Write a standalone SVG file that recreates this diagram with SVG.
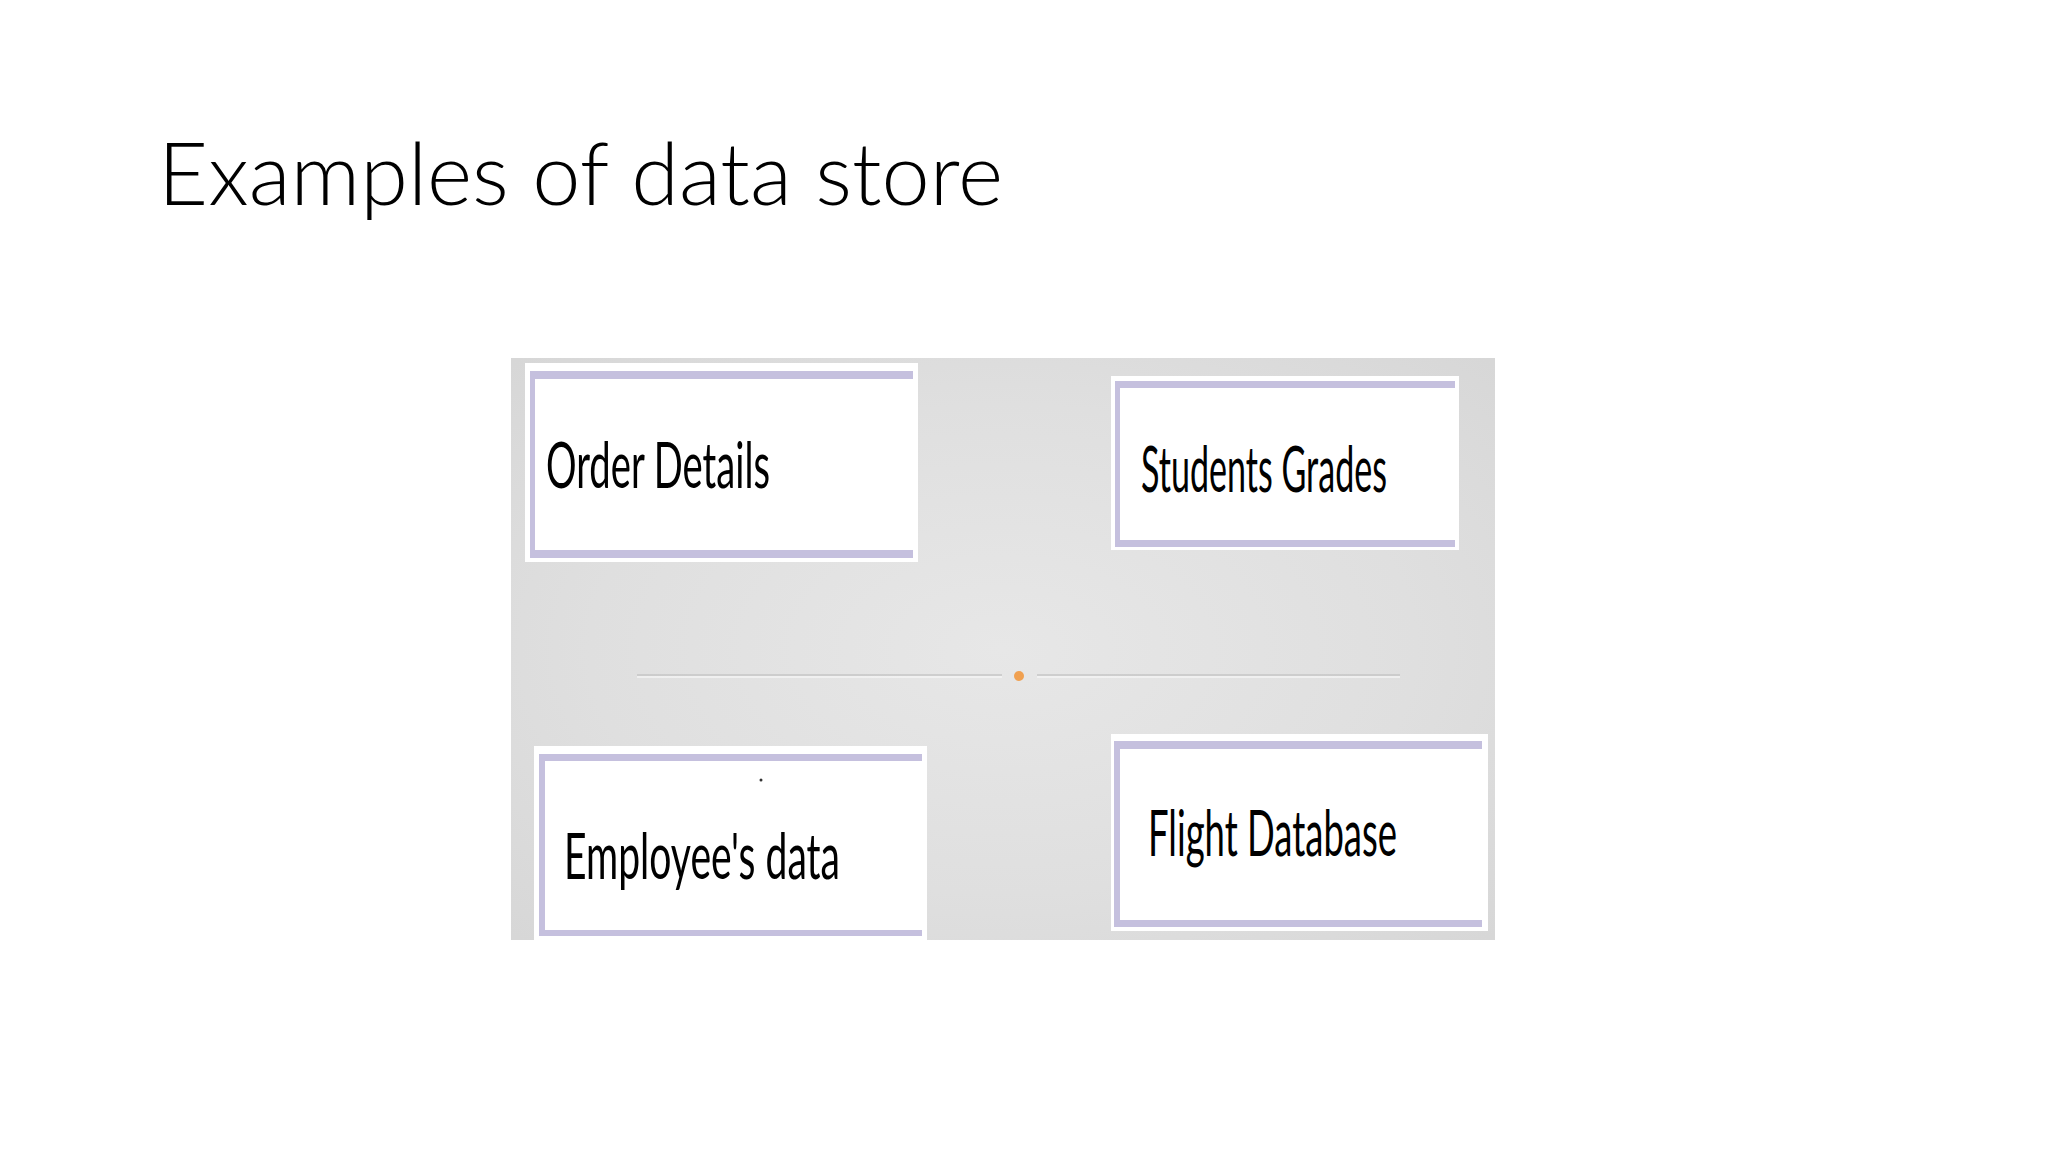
<svg xmlns="http://www.w3.org/2000/svg" width="2048" height="1152" viewBox="0 0 2048 1152">
<defs>
<radialGradient id="paper" cx="0.5" cy="0.5" r="0.7">
<stop offset="0" stop-color="#e7e7e7"/>
<stop offset="0.6" stop-color="#dfdfdf"/>
<stop offset="1" stop-color="#d7d7d7"/>
</radialGradient>
</defs>
<style>
.title{font-family:Lato,"Liberation Sans",sans-serif;font-weight:300;font-size:87px;fill:#000}
.lbl{font-family:Lato,"Liberation Sans",sans-serif;font-size:63px;fill:#000}
.card{fill:#ffffff}
.bar{fill:#c5c0de}
.sep{stroke:#c6c6c6;stroke-width:1.5}
.seph{stroke:#f4f4f4;stroke-width:1.5}
</style>
<rect x="0" y="0" width="2048" height="1152" fill="#ffffff"/>
<text class="title" x="158" y="205" textLength="845" lengthAdjust="spacingAndGlyphs">Examples of data store</text>
<rect x="511" y="358" width="984" height="582" fill="url(#paper)"/>
<g id="connectors">
<line class="sep" x1="637" y1="675" x2="1002" y2="675"/>
<line class="seph" x1="637" y1="677" x2="1002" y2="677"/>
<line class="sep" x1="1037" y1="675" x2="1400" y2="675"/>
<line class="seph" x1="1037" y1="677" x2="1400" y2="677"/>
<circle cx="1019" cy="676" r="5" fill="#f0a050"/>
</g>
<g id="order-details">
<rect class="card" x="525" y="363" width="393" height="199"/>
<rect class="bar" x="530" y="371" width="383" height="8"/>
<rect class="bar" x="530" y="371" width="5" height="187"/>
<rect class="bar" x="530" y="550" width="383" height="8"/>
<text class="lbl" x="546" y="488" textLength="224" lengthAdjust="spacingAndGlyphs">Order Details</text>
</g>
<g id="students-grades">
<rect class="card" x="1111" y="376" width="348" height="174"/>
<rect class="bar" x="1115" y="381" width="340" height="7"/>
<rect class="bar" x="1115" y="381" width="5" height="166"/>
<rect class="bar" x="1115" y="540" width="340" height="7"/>
<text class="lbl" x="1141" y="492" font-size="60" textLength="246" lengthAdjust="spacingAndGlyphs">Students Grades</text>
</g>
<g id="employees-data">
<rect class="card" x="534" y="746" width="393" height="194"/>
<rect class="bar" x="539" y="754" width="383" height="7"/>
<rect class="bar" x="539" y="754" width="6" height="182"/>
<rect class="bar" x="539" y="930" width="383" height="6"/>
<circle cx="761" cy="780" r="1.5" fill="#333"/>
<text class="lbl" x="564" y="879" textLength="276" lengthAdjust="spacingAndGlyphs">Employee's data</text>
</g>
<g id="flight-database">
<rect class="card" x="1111" y="734" width="377" height="197"/>
<rect class="bar" x="1114" y="741" width="368" height="8"/>
<rect class="bar" x="1114" y="741" width="6" height="186"/>
<rect class="bar" x="1114" y="920" width="368" height="7"/>
<text class="lbl" x="1148" y="856" textLength="249" lengthAdjust="spacingAndGlyphs">Flight Database</text>
</g>
</svg>
